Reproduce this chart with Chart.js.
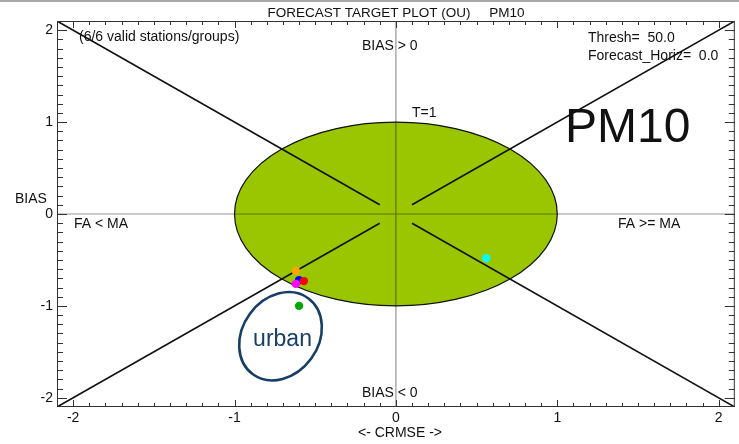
<!DOCTYPE html>
<html>
<head>
<meta charset="utf-8">
<script src="https://cdn.jsdelivr.net/npm/chart.js@4/dist/chart.umd.min.js"></script>
<style>
  html, body { margin: 0; padding: 0; background: #fff; }
  #strip { position: absolute; left: 0; top: 0; width: 739px; height: 2px; background: #a8a8a8; }
  #wrap { position: absolute; left: 0; top: 0; width: 739px; height: 444px; }
</style>
</head>
<body>
<div id="wrap"><canvas id="target" width="739" height="444"></canvas></div>
<div id="strip"></div>
<script>
// Axis ticks (CRMSE on x, BIAS on y)
const xTickValues = [-2, -1, 0, 1, 2];
const yTickValues = [-2, -1, 0, 1, 2];
const axisLimit = 2.1;

// Station results: normalised CRMSE (signed) and BIAS
const stationCrmse = [0.56, -0.62, -0.60, -0.57, -0.62, -0.60];
const stationBias  = [-0.48, -0.62, -0.72, -0.73, -0.76, -1.00];
const stationColors = ['#00ffff', '#ffa500', '#0000ff', '#ff0000', '#ff00ff', '#00aa00'];

// Target radius (T=1)
const targetRadius = 1;

// Diagonal guide segments: [x0, y0, x1, y1]
const diagonalSegments = [
  [-2.1, 2.1, -0.1, 0.1],
  [0.1, 0.1, 2.1, 2.1],
  [-2.1, -2.1, -0.1, -0.1],
  [0.1, -0.1, 2.1, -2.1]
];

// Hand-drawn "urban" group marker, centre in data units
const urbanCentre = [-0.715, -1.33];

const FONT = '"Liberation Sans", Arial, Helvetica, sans-serif';

const points = stationCrmse.map((x, i) => ({ x: x, y: stationBias[i] }));

const diagonalDatasets = diagonalSegments.map(s => ({
  type: 'line',
  data: [{ x: s[0], y: s[1] }, { x: s[2], y: s[3] }],
  borderColor: '#111',
  borderWidth: 1.6,
  pointRadius: 0,
  fill: false,
  order: 2
}));

const targetPlugin = {
  id: 'targetPlot',
  beforeDatasetsDraw(chart) {
    const { ctx, chartArea: a, scales: { x, y } } = chart;
    const cx = x.getPixelForValue(0), cy = y.getPixelForValue(0);
    const rx = x.getPixelForValue(targetRadius) - cx;
    const ry = cy - y.getPixelForValue(targetRadius);
    ctx.save();
    // target ellipse
    ctx.beginPath();
    ctx.ellipse(cx, cy, rx, ry, 0, 0, Math.PI * 2);
    ctx.fillStyle = '#99c600';
    ctx.fill();
    ctx.lineWidth = 1.2;
    ctx.strokeStyle = '#111';
    ctx.stroke();
    // zero lines
    ctx.strokeStyle = 'rgba(0,0,0,0.42)';
    ctx.lineWidth = 1.2;
    ctx.beginPath();
    ctx.moveTo(a.left, cy); ctx.lineTo(a.right, cy);
    ctx.moveTo(cx, a.top); ctx.lineTo(cx, a.bottom);
    ctx.stroke();
    ctx.restore();
  },
  afterDatasetsDraw(chart) {
    const { ctx, chartArea: a, scales: { x, y } } = chart;
    ctx.save();
    // frame
    ctx.strokeStyle = '#333';
    ctx.lineWidth = 1;
    ctx.strokeRect(a.left + 0.5, a.top + 0.5, a.right - a.left - 1, a.bottom - a.top - 1);
    // inward tick marks, minor every 0.1
    ctx.beginPath();
    for (let k = -21; k <= 21; k++) {
      const v = k / 10;
      const major = k % 10 === 0;
      const px = Math.round(x.getPixelForValue(v)) + 0.5;
      if (px > a.left + 1 && px < a.right - 1) {
        const lx = major ? 7 : 4;
        ctx.moveTo(px, a.bottom); ctx.lineTo(px, a.bottom - lx);
        ctx.moveTo(px, a.top); ctx.lineTo(px, a.top + lx);
      }
      const py = Math.round(y.getPixelForValue(v)) + 0.5;
      if (py > a.top + 1 && py < a.bottom - 1) {
        const ly = major ? 10 : 6;
        ctx.moveTo(a.left, py); ctx.lineTo(a.left + ly, py);
        ctx.moveTo(a.right, py); ctx.lineTo(a.right - ly, py);
      }
    }
    ctx.stroke();

    // labels
    ctx.fillStyle = '#111';
    ctx.textBaseline = 'alphabetic';
    ctx.textAlign = 'center';
    ctx.font = '13.5px ' + FONT;
    ctx.fillText('FORECAST TARGET PLOT (OU)     PM10', 396, 17);
    ctx.font = '14px ' + FONT;
    ctx.fillText('<- CRMSE ->', 400, 437);
    ctx.textAlign = 'left';
    ctx.fillText('(6/6 valid stations/groups)', 79, 41);
    ctx.fillText('Thresh=  50.0', 588, 42);
    ctx.fillText('Forecast_Horiz=  0.0', 588, 60);
    ctx.fillText('BIAS > 0', 362, 50);
    ctx.fillText('T=1', 412, 117);
    ctx.fillText('BIAS', 15, 203);
    ctx.fillText('FA < MA', 74, 228);
    ctx.fillText('FA >= MA', 618, 228);
    ctx.fillText('BIAS < 0', 362, 397);
    ctx.font = '48px ' + FONT;
    ctx.fillText('PM10', 565, 142);

    // urban group annotation
    const ux = x.getPixelForValue(urbanCentre[0]);
    const uy = y.getPixelForValue(urbanCentre[1]);
    ctx.strokeStyle = '#173e66';
    ctx.lineWidth = 2.6;
    ctx.beginPath();
    ctx.ellipse(ux, uy, 47, 38, -Math.PI * 0.3, 0, Math.PI * 2);
    ctx.stroke();
    ctx.fillStyle = '#173e66';
    ctx.textAlign = 'center';
    ctx.font = '23px ' + FONT;
    ctx.fillText('urban', ux + 2, uy + 10);
    ctx.restore();
  }
};

new Chart(document.getElementById('target'), {
  type: 'scatter',
  data: {
    datasets: [
      ...diagonalDatasets,
      {
        type: 'scatter',
        data: points,
        backgroundColor: stationColors,
        borderWidth: 0,
        pointRadius: 4.2,
        pointHoverRadius: 4.2,
        order: 1
      }
    ]
  },
  options: {
    responsive: false,
    animation: false,
    devicePixelRatio: 1,
    layout: { padding: { top: 21, right: 2, left: 0, bottom: 0 } },
    plugins: { legend: { display: false }, tooltip: { enabled: false }, title: { display: false } },
    scales: {
      x: {
        type: 'linear',
        min: -axisLimit,
        max: axisLimit,
        afterBuildTicks: s => { s.ticks = xTickValues.map(v => ({ value: v })); },
        afterFit: s => { s.height = 37; },
        grid: { display: false, drawTicks: false },
        border: { display: false },
        ticks: { color: '#111', font: { family: FONT, size: 14 }, padding: 3, maxRotation: 0, autoSkip: false }
      },
      y: {
        type: 'linear',
        min: -axisLimit,
        max: axisLimit,
        afterBuildTicks: s => { s.ticks = yTickValues.map(v => ({ value: v })); },
        afterFit: s => { s.width = 57; },
        grid: { display: false, drawTicks: false },
        border: { display: false },
        ticks: { color: '#111', font: { family: FONT, size: 14 }, padding: 4, autoSkip: false }
      }
    }
  },
  plugins: [targetPlugin]
});
</script>
</body>
</html>
